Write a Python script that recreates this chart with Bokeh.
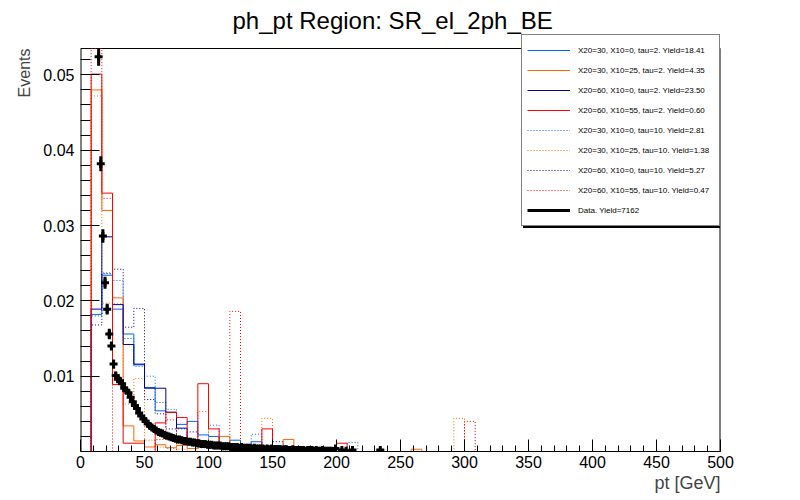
import numpy as np
from bokeh.plotting import figure
from bokeh.models import Range1d, FixedTicker, Legend, LegendItem, Title, ColumnDataSource
from bokeh.embed import file_html
from bokeh.resources import INLINE

FONT = "Liberation Sans"

# ---------------- data ----------------
n_bins = 60
pt_min, pt_max = 0.0, 500.0
y_top = 0.0535          # top of the drawn frame

labels = [
    "X20=30, X10=0, tau=2. Yield=18.41",
    "X20=30, X10=25, tau=2. Yield=4.35",
    "X20=60, X10=0, tau=2. Yield=23.50",
    "X20=60, X10=55, tau=2. Yield=0.60",
    "X20=30, X10=0, tau=10. Yield=2.81",
    "X20=30, X10=25, tau=10. Yield=1.38",
    "X20=60, X10=0, tau=10. Yield=5.27",
    "X20=60, X10=55, tau=10. Yield=0.47",
]
data_label = "Data. Yield=7162"

colors = ["#0066ff", "#ff6600", "#000099", "#ff0000",
          "#0066ff", "#ff6600", "#000099", "#ff0000"]
dashes = ["solid"] * 4 + ["1 2"] * 4

# 60 bins of 8.33 GeV
h_30_0_t2 = [0, 0.0182, 0.0234, 0.0189, 0.0156, 0.0115, 0.0085, 0.0054, 0.0052, 0.0036,
             0.0040, 0.0022, 0.0020, 0.0008, 0.0015, 0.0004, 0.0013, 0.0005, 0.0008, 0.0003,
             0.0004, 0.0002, 0.0003, 0.0001, 0.0002, 0, 0, 0, 0, 0,
             0, 0, 0, 0, 0, 0, 0, 0, 0, 0,
             0, 0, 0, 0, 0, 0, 0, 0, 0, 0,
             0, 0, 0, 0, 0, 0, 0, 0, 0, 0]
h_30_25_t2 = [0, 0.0480, 0.0320, 0.0204, 0.0034, 0.0014, 0.0006, 0.0009, 0.0005, 0.0008,
              0.0004, 0.0006, 0.0010, 0.0020, 0.0003, 0, 0, 0, 0, 0.0016,
              0, 0, 0, 0, 0, 0, 0, 0, 0, 0,
              0, 0.0003, 0, 0, 0, 0, 0, 0, 0, 0,
              0, 0, 0, 0, 0, 0, 0, 0, 0, 0,
              0, 0, 0, 0, 0, 0, 0, 0, 0, 0]
h_60_0_t2 = [0, 0.0189, 0.0285, 0.0195, 0.0142, 0.0116, 0.0084, 0.0084, 0.0052, 0.0031,
             0.0012, 0.0008, 0.0006, 0.0009, 0.0004, 0.0003, 0.0004, 0.0002, 0.0003, 0.0002,
             0.0002, 0, 0, 0, 0, 0, 0, 0, 0, 0,
             0, 0, 0, 0, 0, 0, 0, 0, 0, 0,
             0, 0, 0, 0, 0, 0, 0, 0, 0, 0,
             0, 0, 0, 0, 0, 0, 0, 0, 0, 0]
h_60_55_t2 = [0, 0.0501, 0.0343, 0.0089, 0.0011, 0.0011, 0, 0.0038, 0.0052, 0.0045,
              0.0012, 0.0090, 0.0030, 0.0006, 0, 0, 0, 0.0030, 0, 0,
              0, 0, 0, 0, 0.0011, 0, 0, 0, 0, 0,
              0, 0, 0, 0, 0, 0, 0, 0, 0, 0,
              0, 0, 0, 0, 0, 0, 0, 0, 0, 0,
              0, 0, 0, 0, 0, 0, 0, 0, 0, 0]
h_30_0_t10 = [0, 0.0180, 0.0237, 0.0227, 0.0150, 0.0113, 0.0100, 0.0065, 0.0056, 0.0030,
              0.0012, 0.0008, 0.0035, 0.0006, 0.0004, 0.0003, 0.0023, 0.0004, 0.0002, 0,
              0, 0, 0, 0, 0, 0.0012, 0, 0, 0, 0,
              0, 0, 0, 0, 0, 0, 0, 0, 0, 0,
              0, 0, 0, 0, 0, 0, 0, 0, 0, 0,
              0, 0, 0, 0, 0, 0, 0, 0, 0, 0]
h_30_25_t10 = [0, 0.0472, 0.0197, 0.0196, 0.0063, 0.0097, 0.0015, 0.0006, 0.0004, 0.0003,
               0, 0.0053, 0, 0, 0, 0, 0, 0.0044, 0, 0,
               0, 0, 0, 0, 0, 0, 0, 0, 0, 0,
               0, 0, 0, 0, 0, 0.0044, 0, 0, 0, 0,
               0, 0, 0, 0, 0, 0, 0, 0, 0, 0,
               0, 0, 0, 0, 0, 0, 0, 0, 0, 0]
h_60_0_t10 = [0, 0.0168, 0.0236, 0.0242, 0.0165, 0.0190, 0.0069, 0.0050, 0.0030, 0.0012,
              0.0026, 0.0005, 0.0004, 0.0003, 0.0002, 0.0003, 0.0002, 0.0002, 0.0013, 0.0002,
              0, 0, 0, 0, 0, 0, 0, 0, 0, 0,
              0, 0, 0, 0, 0, 0, 0, 0, 0, 0,
              0, 0, 0, 0, 0, 0, 0, 0, 0, 0,
              0, 0, 0, 0, 0, 0, 0, 0, 0, 0]
h_60_55_t10 = [0, 0.0580, 0.0336, 0, 0, 0, 0, 0.0016, 0.0042, 0,
               0, 0, 0, 0, 0.0186, 0, 0, 0, 0, 0,
               0, 0, 0, 0, 0, 0, 0, 0, 0, 0,
               0, 0, 0, 0, 0, 0, 0.0040, 0, 0, 0,
               0, 0, 0, 0, 0, 0, 0, 0, 0, 0,
               0, 0, 0, 0, 0, 0, 0, 0, 0, 0]

hists = [h_30_0_t2, h_30_25_t2, h_60_0_t2, h_60_55_t2,
         h_30_0_t10, h_30_25_t10, h_60_0_t10, h_60_55_t10]

# data: fine bins of 500/300 GeV starting at 13.33 GeV
data_start = 13.333
data_width = 500.0 / 300
data_vals = [
    0.0524, 0.0382, 0.0286, 0.0224, 0.0189, 0.0156, 0.0140, 0.0116, 0.0101, 0.0096,
    0.0094, 0.0090, 0.0084, 0.0081, 0.0078, 0.0072, 0.0066, 0.0061, 0.0057, 0.0051,
    0.0047, 0.0043, 0.0040, 0.0037, 0.0034, 0.0032, 0.0030, 0.0028, 0.0026, 0.0025,
    0.0024, 0.0022, 0.0021, 0.0020, 0.0019, 0.0018, 0.0017, 0.0016, 0.0016, 0.0015,
    0.0014, 0.0014, 0.0013, 0.0013, 0.0012, 0.0012, 0.0011, 0.0011, 0.0010, 0.0010,
    0.0010, 0.0009, 0.0009, 0.0009, 0.0008, 0.0008, 0.0008, 0.0008, 0.0007, 0.0007,
    0.0007, 0.0007, 0.0006, 0.0006, 0.0006, 0.0006, 0.0005, 0.0006, 0.0005, 0.0005,
    0.0005, 0.0005, 0.0004, 0.0005, 0.0004, 0.0004, 0.0004, 0.0004, 0.0003, 0.0004,
    0.0003, 0.0004, 0.0003, 0.0003, 0.0003, 0.0003, 0.0002, 0.0003, 0.0003, 0.0002,
    0.0002, 0.0003, 0.0002, 0.0002, 0.0002, 0.0002, 0.0002, 0.0001, 0.0002, 0.0002,
    0.0002, 0.0001, 0.0002, 0.0001, 0.0001, 0.0002, 0.0001, 0.0001, 0.0001, 0.0001,
]
data_errs = [
    0.0012, 0.0010, 0.0009, 0.0008, 0.0007, 0.0007, 0.0006, 0.0006, 0.0005, 0.0005,
    0.0005, 0.0005, 0.0005, 0.0005, 0.0004, 0.0004, 0.0004, 0.0004, 0.0004, 0.0004,
    0.0003, 0.0003, 0.0003, 0.0003, 0.0003, 0.0003, 0.0003, 0.0003, 0.0003, 0.0003,
    0.0003, 0.0003, 0.0003, 0.0002, 0.0002, 0.0002, 0.0002, 0.0002, 0.0002, 0.0002,
    0.0002, 0.0002, 0.0002, 0.0002, 0.0002, 0.0002, 0.0002, 0.0002, 0.0002, 0.0002,
    0.0002, 0.0002, 0.0002, 0.0002, 0.0002, 0.0002, 0.0002, 0.0002, 0.0002, 0.0002,
    0.0002, 0.0002, 0.0002, 0.0002, 0.0002, 0.0002, 0.0002, 0.0002, 0.0002, 0.0002,
    0.0002, 0.0002, 0.0002, 0.0002, 0.0002, 0.0002, 0.0002, 0.0002, 0.0002, 0.0002,
    0.0002, 0.0002, 0.0002, 0.0002, 0.0002, 0.0002, 0.0001, 0.0002, 0.0002, 0.0001,
    0.0001, 0.0002, 0.0001, 0.0001, 0.0001, 0.0001, 0.0001, 0.0001, 0.0001, 0.0001,
    0.0001, 0.0001, 0.0001, 0.0001, 0.0001, 0.0001, 0.0001, 0.0001, 0.0001, 0.0001,
]
sparse_pt = [199.2, 204.2, 207.5, 212.5, 234.2]
sparse_vals = [0.0004, 0.0002, 0.0001, 0.0002, 0.0002]
sparse_errs = [0.0003, 0.0002, 0.0001, 0.0002, 0.0002]

x_ticks = [0, 50, 100, 150, 200, 250, 300, 350, 400, 450, 500]
y_ticks = [0.01, 0.02, 0.03, 0.04, 0.05]

# ---------------- figure ----------------
# frame is extended 15 px above the drawn box so the legend can overhang it
FRAME_H = 418
BOX_H = 403
y_end = y_top * FRAME_H / BOX_H

p = figure(frame_width=640, frame_height=FRAME_H,
           x_range=Range1d(pt_min, pt_max), y_range=Range1d(0, y_end),
           output_backend="svg", toolbar_location=None,
           min_border_left=80, min_border_right=80, min_border_top=33, min_border_bottom=49,
           title="ph_pt Region: SR_el_2ph_BE")
p.background_fill_color = "white"
p.border_fill_color = "white"
p.outline_line_color = None
p.xgrid.visible = False
p.ygrid.visible = False

p.title.text_font = FONT
p.title.text_font_size = "24px"
p.title.text_font_style = "normal"
p.title.align = "left"
p.title.offset = 152
p.title.text_color = "black"
p.title.standoff = 0

for ax in (p.xaxis[0], p.yaxis[0]):
    ax.major_tick_out = 0
    ax.minor_tick_out = 0
    ax.axis_line_color = "black"
    ax.major_tick_line_color = "black"
    ax.minor_tick_line_color = "black"
    ax.major_label_text_font = FONT
    ax.major_label_text_font_size = "16px"
    ax.major_label_text_color = "black"
p.yaxis[0].axis_line_color = None

p.xaxis[0].major_tick_in = 12
p.xaxis[0].minor_tick_in = 6
p.yaxis[0].major_tick_in = 19
p.yaxis[0].minor_tick_in = 10
p.xaxis[0].major_label_standoff = 4
p.yaxis[0].major_label_standoff = 6

x_minor = [v for v in range(0, 501, 10) if v % 50]
y_minor = [round(0.002 * i, 4) for i in range(1, 27) if i % 5]
p.xaxis[0].ticker = FixedTicker(ticks=x_ticks, minor_ticks=x_minor)
p.yaxis[0].ticker = FixedTicker(ticks=y_ticks, minor_ticks=y_minor)

p.add_layout(Title(text="Events", align="right", offset=15, standoff=16, text_font=FONT,
                   text_font_size="16px", text_font_style="normal"), "left")
p.add_layout(Title(text="pt [GeV]", align="right", standoff=0, text_font=FONT,
                   text_font_size="18px", text_font_style="normal"), "below")

# drawn box: left, top, right edges
p.segment(x0=[pt_min, pt_min, pt_max], y0=[0, y_top, 0],
          x1=[pt_min, pt_max, pt_max], y1=[y_top, y_top, y_top],
          line_color="black", line_width=[2, 1, 2])

edges = np.linspace(pt_min, pt_max, n_bins + 1)
renderers = [None] * len(hists)
draw_order = [4, 5, 6, 7, 0, 1, 2, 3]   # dotted first, solid on top
for i in draw_order:
    vals = hists[i]
    shown = np.minimum(np.array(list(vals) + [vals[-1]]), y_top)
    renderers[i] = p.step(x=edges, y=shown, mode="after", line_color=colors[i],
                          line_width=1, line_dash=dashes[i])

# data points
dpt = [data_start + data_width * (k + 0.5) for k in range(len(data_vals))] + sparse_pt
dval = data_vals + sparse_vals
derr = data_errs + sparse_errs
src = ColumnDataSource(dict(x=dpt, y=dval,
                            lo=[v - e for v, e in zip(dval, derr)],
                            hi=[min(v + e, y_top) for v, e in zip(dval, derr)]))
rerr = p.segment(x0="x", y0="lo", x1="x", y1="hi", source=src, line_color="black", line_width=3)
p.scatter(x="x", y="y", source=src, marker="cross", size=8, line_color="black", line_width=3)

# legend (with a ROOT-like shadow underneath)
ghost = p.step(x=[pt_min, pt_max], y=[0, 0], line_alpha=0)
LEG_X, LEG_Y = 441, 225


def style_legend(lg):
    lg.glyph_width = 43
    lg.glyph_height = 20
    lg.label_height = 20
    lg.spacing = 0
    lg.padding = 5
    lg.margin = 0
    lg.label_standoff = 8
    lg.label_width = 136
    lg.label_text_font = FONT
    lg.label_text_font_size = "8px"
    lg.label_text_color = "black"
    lg.border_line_color = "black"
    lg.border_line_width = 1
    lg.background_fill_alpha = 1


shadow = Legend(items=[LegendItem(label=" ", renderers=[ghost]) for _ in range(9)],
                location=(LEG_X + 2, LEG_Y - 2))
style_legend(shadow)
shadow.background_fill_color = "black"
p.add_layout(shadow)

items = [LegendItem(label=lab, renderers=[r]) for lab, r in zip(labels, renderers)]
items.append(LegendItem(label=data_label, renderers=[rerr]))
legend = Legend(items=items, location=(LEG_X, LEG_Y))
style_legend(legend)
legend.background_fill_color = "white"
p.add_layout(legend)

open("out.html", "w").write(file_html(p, INLINE))
